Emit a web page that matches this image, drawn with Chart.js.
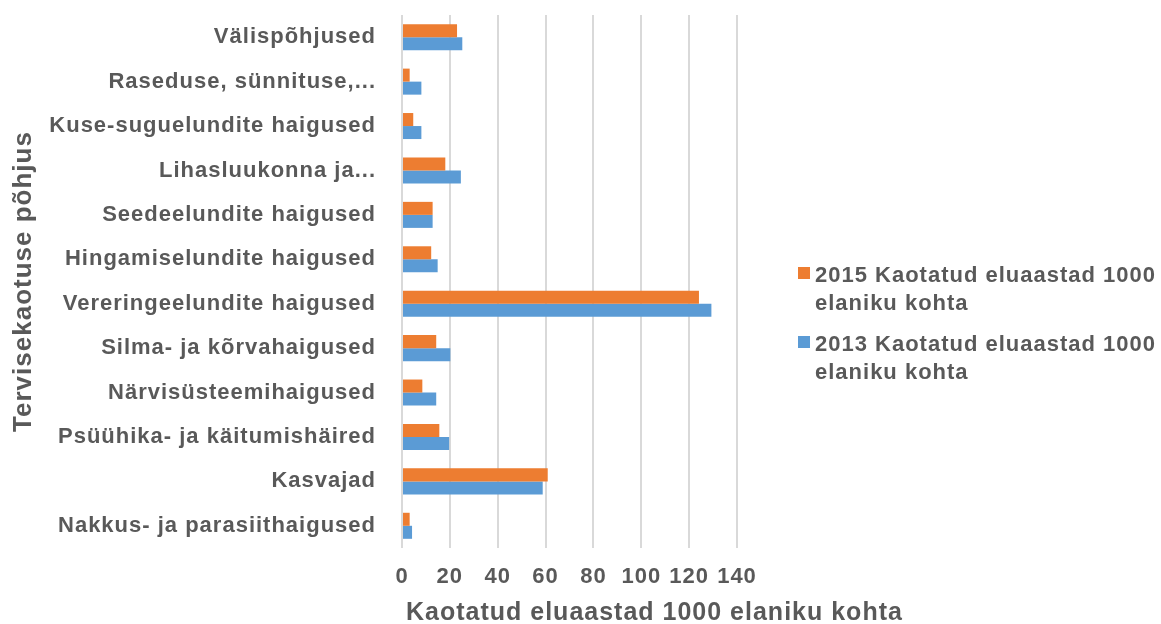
<!DOCTYPE html>
<html lang="et">
<head>
<meta charset="utf-8">
<title>Kaotatud eluaastad 1000 elaniku kohta</title>
<script src="https://cdn.jsdelivr.net/npm/chart.js@4.4.1/dist/chart.umd.min.js"></script>
<style>
  html, body { margin: 0; padding: 0; background: #ffffff; }
  #wrap { position: relative; width: 1161px; height: 624px; }
</style>
</head>
<body>
<div id="wrap"><canvas id="chart"></canvas></div>
<script>
// Haigusgrupid (ülevalt alla)
const categories = [
  'Välispõhjused',
  'Raseduse, sünnituse,...',
  'Kuse-suguelundite haigused',
  'Lihasluukonna ja...',
  'Seedeelundite haigused',
  'Hingamiselundite haigused',
  'Vereringeelundite haigused',
  'Silma- ja kõrvahaigused',
  'Närvisüsteemihaigused',
  'Psüühika- ja käitumishäired',
  'Kasvajad',
  'Nakkus- ja parasiithaigused'
];

const seriesNames = [
  '2015 Kaotatud eluaastad 1000 elaniku kohta',
  '2013 Kaotatud eluaastad 1000 elaniku kohta'
];

const values2015 = [23.0, 3.2, 4.7, 18.1, 12.8, 12.2, 124.1, 14.3, 8.5, 15.6, 60.9, 3.2];
const values2013 = [25.2, 8.1, 8.1, 24.6, 12.8, 14.9, 129.3, 20.2, 14.3, 19.7, 58.8, 4.2];

const xTicks = [0, 20, 40, 60, 80, 100, 120, 140];

const xTitle = 'Kaotatud eluaastad 1000 elaniku kohta';
const yTitle = 'Tervisekaotuse põhjus';

const TEXT = '#595959';
const FONT = "'Liberation Sans', Arial, sans-serif";

// Slightly wider tracking for all canvas text
const tracking = {
  id: 'tracking',
  beforeLayout(chart) { chart.ctx.letterSpacing = '1px'; },
  beforeDraw(chart) { chart.ctx.letterSpacing = '1px'; }
};

// Value-axis title, left-aligned with the plot and allowed to run past its width
const axisCaption = {
  id: 'axisCaption',
  afterDraw(chart, args, opts) {
    const ctx = chart.ctx;
    ctx.save();
    ctx.letterSpacing = '1px';
    ctx.font = opts.font;
    ctx.fillStyle = opts.color;
    ctx.textAlign = 'left';
    ctx.textBaseline = 'alphabetic';
    ctx.fillText(opts.text, chart.chartArea.left + opts.dx, opts.baseline);
    ctx.restore();
  }
};

// Legend drawn at the right, with wrapped two-line entries
const sideLegend = {
  id: 'sideLegend',
  afterDraw(chart, args, opts) {
    const ctx = chart.ctx;
    ctx.save();
    ctx.letterSpacing = '1px';
    ctx.font = opts.font;
    ctx.textAlign = 'left';
    ctx.textBaseline = 'alphabetic';
    let base = opts.firstBaseline;
    chart.data.datasets.forEach(ds => {
      const words = ds.label.split(' ');
      const lines = [];
      let cur = '';
      words.forEach(w => {
        const t = cur ? cur + ' ' + w : w;
        if (cur && ctx.measureText(t).width > opts.maxWidth) { lines.push(cur); cur = w; }
        else { cur = t; }
      });
      lines.push(cur);
      ctx.fillStyle = ds.backgroundColor;
      ctx.fillRect(opts.boxX, base - opts.boxRaise, opts.boxSize, opts.boxSize);
      ctx.fillStyle = opts.color;
      lines.forEach((ln, i) => ctx.fillText(ln, opts.textX, base + i * opts.lineHeight));
      base += opts.itemStep;
    });
    ctx.restore();
  }
};

new Chart(document.getElementById('chart'), {
  type: 'bar',
  data: {
    labels: categories,
    datasets: [
      { label: seriesNames[0], data: values2015, backgroundColor: '#ED7D31' },
      { label: seriesNames[1], data: values2013, backgroundColor: '#5B9BD5' }
    ]
  },
  options: {
    indexAxis: 'y',
    responsive: true,
    maintainAspectRatio: false,
    animation: false,
    categoryPercentage: 0.586,
    barPercentage: 1.0,
    layout: { padding: { top: 15, right: 424, bottom: 0, left: 0 } },
    plugins: {
      legend: { display: false },
      tooltip: { enabled: false },
      axisCaption: {
        text: xTitle,
        font: "bold 25px " + FONT,
        color: TEXT,
        dx: 4,
        baseline: 620
      },
      sideLegend: {
        font: "bold 22px " + FONT,
        color: TEXT,
        boxX: 798, boxSize: 12, boxRaise: 15,
        textX: 815, firstBaseline: 282, lineHeight: 28, itemStep: 69,
        maxWidth: 346
      }
    },
    scales: {
      x: {
        type: 'linear',
        min: 0,
        max: 140,
        afterBuildTicks(scale) { scale.ticks = xTicks.map(v => ({ value: v })); },
        afterFit(scale) { scale.height = 76; },
        grid: { color: '#d9d9d9', lineWidth: 2, drawTicks: false },
        border: { display: false },
        ticks: { color: TEXT, padding: 16, font: { family: FONT, size: 22, weight: 'bold' } }
      },
      y: {
        type: 'category',
        afterFit(scale) {
          scale.width = 402;
          scale.paddingTop = 0;
          scale.paddingBottom = 0;
        },
        grid: { display: false, drawTicks: false },
        border: { display: false },
        ticks: { color: TEXT, padding: 26, font: { family: FONT, size: 22, weight: 'bold' } },
        title: {
          display: true,
          text: yTitle,
          color: TEXT,
          font: { family: FONT, size: 26, weight: 'bold' },
          padding: { top: 8, bottom: 0 }
        }
      }
    }
  },
  plugins: [tracking, axisCaption, sideLegend]
});
</script>
</body>
</html>
